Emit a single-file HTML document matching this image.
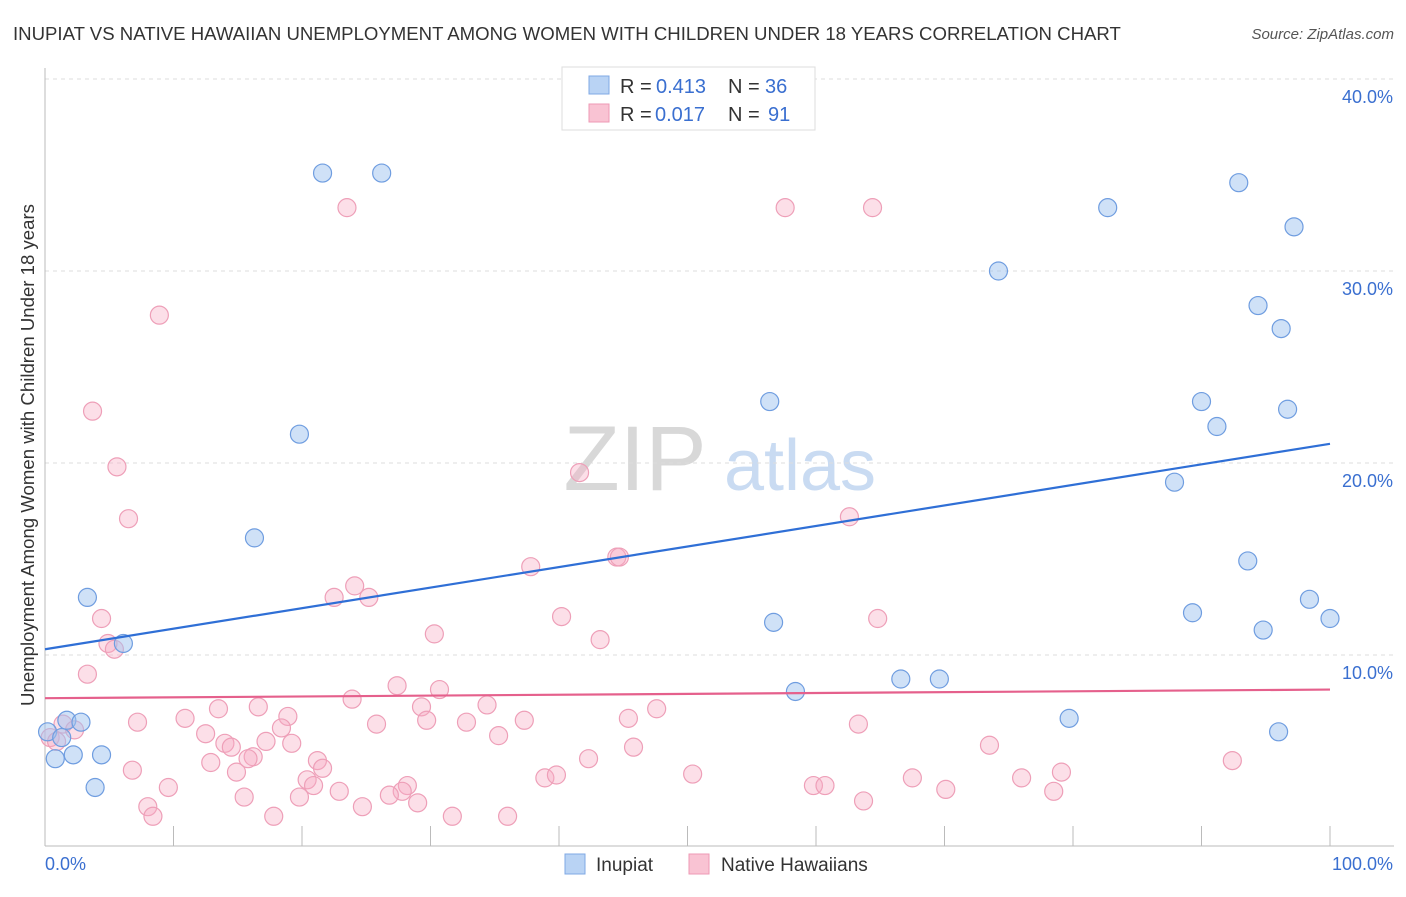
<!DOCTYPE html>
<html><head><meta charset="utf-8">
<style>
body{margin:0;background:#fff;font-family:"Liberation Sans",sans-serif;}
svg text{font-family:"Liberation Sans",sans-serif;}
</style></head>
<body>
<svg id="chart" width="1406" height="892" xmlns="http://www.w3.org/2000/svg">
<text x="13" y="40" font-size="18.6" fill="#333">INUPIAT VS NATIVE HAWAIIAN UNEMPLOYMENT AMONG WOMEN WITH CHILDREN UNDER 18 YEARS CORRELATION CHART</text>
<text x="1394" y="39" font-size="15" fill="#555" font-style="italic" text-anchor="end">Source: ZipAtlas.com</text>
<text transform="translate(34,455) rotate(-90)" font-size="18.6" fill="#333" text-anchor="middle">Unemployment Among Women with Children Under 18 years</text>
<g id="watermark">
<text x="635" y="490" font-size="92" fill="#d8d8d8" font-family="Liberation Serif" text-anchor="middle">ZIP</text>
<text x="800" y="490" font-size="72" fill="#c9dbf2" text-anchor="middle">atlas</text>
</g>
<g id="grid"></g>
<g id="axes"></g>
<g id="pts"></g>
<g id="lines"></g>
<g>
<rect x="562" y="67" width="253" height="63" fill="#fff" stroke="#ddd"/>
<rect x="589" y="76" width="20" height="18" fill="#b9d3f4" stroke="#7fa8e4"/>
<rect x="589" y="104" width="20" height="18" fill="#f9c3d3" stroke="#ee9ab4"/>
<text x="620" y="93" font-size="20" fill="#333">R =</text>
<text x="656" y="93" font-size="20" fill="#3a6fd0">0.413</text>
<text x="728" y="93" font-size="20" fill="#333">N =</text>
<text x="765" y="93" font-size="20" fill="#3a6fd0">36</text>
<text x="620" y="121" font-size="20" fill="#333">R =</text>
<text x="655" y="121" font-size="20" fill="#3a6fd0">0.017</text>
<text x="728" y="121" font-size="20" fill="#333">N =</text>
<text x="768" y="121" font-size="20" fill="#3a6fd0">91</text>
</g>
<g>
<rect x="565" y="854" width="20" height="20" fill="#b9d3f4" stroke="#7fa8e4"/>
<text x="596" y="871" font-size="19" fill="#333">Inupiat</text>
<rect x="689" y="854" width="20" height="20" fill="#f9c3d3" stroke="#ee9ab4"/>
<text x="721" y="871" font-size="19" fill="#333">Native Hawaiians</text>
</g>
</svg>
<script>
const xTicks=[0,10,20,30,40,50,60,70,80,90,100];
const yTicks=[10,20,30,40];
const yTickLabels=["10.0%","20.0%","30.0%","40.0%"];
const xEndLabels=["0.0%","100.0%"];
const inupiatX=[21.6,26.2,92.9,82.7,97.2,74.2,94.4,96.2,56.4,90.0,96.7,19.8,91.2,87.9,16.3,93.6,3.3,98.4,89.3,100,94.8,56.7,6.1,66.6,69.6,58.4,79.7,1.7,2.8,96.0,0.2,1.3,4.4,2.2,0.8,3.9];
const inupiatY=[35.1,35.1,34.6,33.3,32.3,30.0,28.2,27.0,23.2,23.2,22.8,21.5,21.9,19.0,16.1,14.9,13.0,12.9,12.2,11.9,11.3,11.7,10.6,8.75,8.75,8.1,6.7,6.6,6.5,6.0,6.0,5.7,4.8,4.8,4.6,3.1];
const hawX=[23.5,57.6,64.4,8.9,3.7,5.6,41.6,6.5,62.6,44.5,44.7,37.8,24.1,22.5,25.2,40.2,4.4,64.8,43.2,30.3,4.9,5.4,3.3,27.4,30.7,23.9,34.4,13.5,47.6,16.6,18.9,29.3,7.2,10.9,45.4,37.3,32.8,25.8,29.7,63.3,12.5,17.2,18.4,35.3,19.2,1.4,0.4,2.3,0.9,14.0,14.5,16.2,15.8,12.9,21.2,42.3,45.8,73.5,21.6,14.9,6.8,50.4,67.5,76.0,79.1,92.4,38.9,39.8,20.4,9.6,20.9,28.2,59.8,60.7,22.9,27.8,70.1,15.5,19.8,78.5,26.8,29.0,63.7,8.0,24.7,8.4,17.8,31.7,36.0];
const hawY=[33.3,33.3,33.3,27.7,22.7,19.8,19.5,17.1,17.2,15.1,15.1,14.6,13.6,13.0,13.0,12.0,11.9,11.9,10.8,11.1,10.6,10.3,9.0,8.4,8.2,7.7,7.4,7.2,7.2,7.3,6.8,7.3,6.5,6.7,6.7,6.6,6.5,6.4,6.6,6.4,5.9,5.5,6.2,5.8,5.4,6.4,5.7,6.1,5.5,5.4,5.2,4.7,4.6,4.4,4.5,4.6,5.2,5.3,4.1,3.9,4.0,3.8,3.6,3.6,3.9,4.5,3.6,3.75,3.5,3.1,3.2,3.2,3.2,3.2,2.9,2.9,3.0,2.6,2.6,2.9,2.7,2.3,2.4,2.1,2.1,1.6,1.6,1.6,1.6];
const inupiatTrend=[10.3,21.0];
const hawTrend=[7.75,8.2];

const NS="http://www.w3.org/2000/svg";
const X0=45,X1=1330,Y0=847,PXY=19.2;
const sx=v=>X0+(X1-X0)*v/100;
const sy=v=>Y0-v*PXY;
function mk(tag,attrs,parent){const e=document.createElementNS(NS,tag);for(const k in attrs)e.setAttribute(k,attrs[k]);parent.appendChild(e);return e;}
const grid=document.getElementById('grid'),axes=document.getElementById('axes'),pts=document.getElementById('pts'),lines=document.getElementById('lines');
yTicks.forEach((t,i)=>{
 const l=mk('line',{x1:45,x2:1394,y1:sy(t),y2:sy(t),stroke:'#ddd','stroke-dasharray':'4,4'},grid);
 
 
 const tx=mk('text',{x:1393,y:sy(t)+24,'font-size':18,fill:'#3a6fd0','text-anchor':'end'},axes);
 tx.textContent=yTickLabels[i];
 
 
});
const ax=mk('line',{x1:45,x2:1394,y1:846,y2:846,stroke:'#bbb'},axes);


const ay=mk('line',{x1:45,x2:45,y1:68,y2:846,stroke:'#bbb'},axes);


xTicks.forEach(t=>{
 const l=mk('line',{x1:sx(t),x2:sx(t),y1:826,y2:846,stroke:'#bbb'},axes);
 
 
});
const xl0=mk('text',{x:45,y:870,'font-size':18,fill:'#3a6fd0'},axes);xl0.textContent=xEndLabels[0];


const xl1=mk('text',{x:1393,y:870,'font-size':18,fill:'#3a6fd0','text-anchor':'end'},axes);xl1.textContent=xEndLabels[1];


hawX.forEach((x,i)=>{
 const c=mk('circle',{cx:sx(x),cy:sy(hawY[i]),r:9,fill:'rgba(246,170,195,0.38)',stroke:'#ee9fb8','stroke-width':1.2},pts);
 
 
});
inupiatX.forEach((x,i)=>{
 const c=mk('circle',{cx:sx(x),cy:sy(inupiatY[i]),r:9,fill:'rgba(160,195,240,0.5)',stroke:'#6f9de0','stroke-width':1.2},pts);
 
 
});
const tb=mk('line',{x1:sx(0),x2:sx(100),y1:sy(inupiatTrend[0]),y2:sy(inupiatTrend[1]),stroke:'#2f6fd6','stroke-width':2.2},lines);


const tp=mk('line',{x1:sx(0),x2:sx(100),y1:sy(hawTrend[0]),y2:sy(hawTrend[1]),stroke:'#e5608c','stroke-width':2.2},lines);


</script>
</body></html>
